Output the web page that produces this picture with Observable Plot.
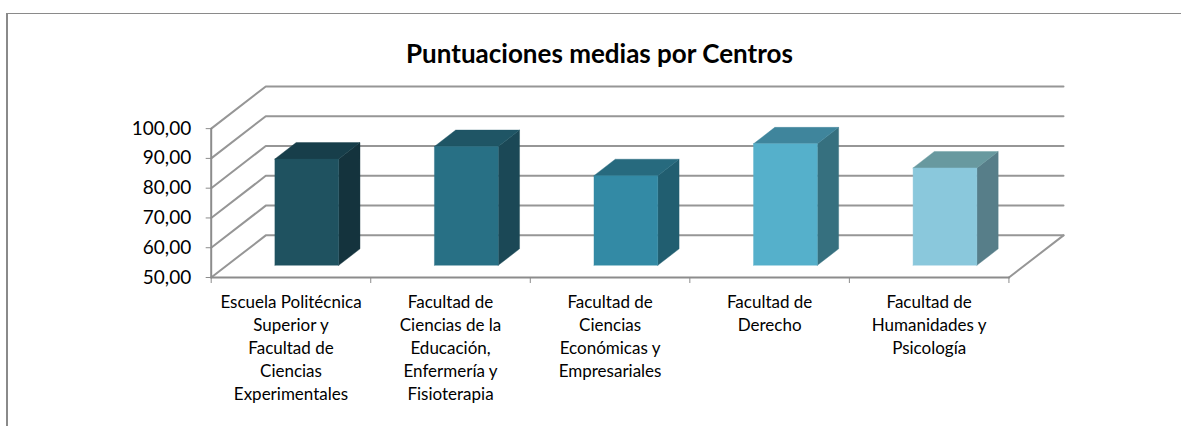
<!DOCTYPE html>
<html lang="es">
<head>
<meta charset="utf-8">
<script src="https://cdn.jsdelivr.net/npm/d3@7"></script>
<script src="https://cdn.jsdelivr.net/npm/@observablehq/plot@0.6"></script>
<style>
html,body{margin:0;padding:0;background:#fff;width:1181px;height:426px;overflow:hidden}
#wrap{position:relative;width:1181px;height:426px}
#frame{position:absolute;left:6px;top:13px;width:1175px;height:413px;border:solid #8a8a8a;border-width:1.5px 0 0 2px;box-sizing:border-box;pointer-events:none}
#title{position:absolute;left:0;width:1199px;top:38px;text-align:center;font:bold 26px Lato,sans-serif;color:#000;line-height:30px}
svg{position:absolute;left:0;top:0}
</style>
</head>
<body>
<div id="wrap"><div id="title">Puntuaciones medias por Centros</div></div>
<script>
const categories = [
  "Escuela Politécnica\nSuperior y\nFacultad de\nCiencias\nExperimentales",
  "Facultad de\nCiencias de la\nEducación,\nEnfermería y\nFisioterapia",
  "Facultad de\nCiencias\nEconómicas y\nEmpresariales",
  "Facultad de\nDerecho",
  "Facultad de\nHumanidades y\nPsicología"
];
const values = [85.7, 89.9, 80.1, 90.8, 82.7];
const frontColors = ["#1f5260", "#287085", "#338aa5", "#55b0cb", "#8ac8dc"];
const sideColors  = ["#14333d", "#1b4856", "#215e70", "#36707f", "#577e89"];
const topColors   = ["#173e4a", "#1f5565", "#276a7e", "#3f859c", "#68999f"];
const yTicks = [50, 60, 70, 80, 90, 100];
const xTicks = [0, 1, 2, 3, 4, 5];
const base = 50;

// oblique projection: depth d in [0,1] shifts along x and y scales
const depthX = 0.342, depthY = 14.15;
const P = (cat, val, d) => ({x: cat + d * depthX, y: val + d * depthY});
const barHalf = 0.2, dFront = 0.29, dBack = 0.68;

const grid = [];
yTicks.forEach(v => {
  [[0, 0], [0, 1], [5, 1]].forEach(([c, d]) => grid.push({...P(c, v, d), id: "g" + v}));
});
const floorEdge = [{...P(5, base, 1), id: "f"}, {...P(5, base, 0), id: "f"}];
const axisLine = [{...P(0, base, 0), id: "a"}, {...P(0, 100, 0), id: "a"}, ];
const floorFront = [{...P(0, base, 0), id: "b"}, {...P(5, base, 0), id: "b"}];

const faces = [];
values.forEach((v, i) => {
  const l = i + 0.5 - barHalf, r = i + 0.5 + barHalf;
  const add = (name, fill, pts) => pts.forEach(p => faces.push({...P(...p), id: i + name, fill}));
  add("side", sideColors[i], [[r, base, dFront], [r, base, dBack], [r, v, dBack], [r, v, dFront], [r, base, dFront]]);
  add("top", topColors[i], [[l, v, dFront], [r, v, dFront], [r, v, dBack], [l, v, dBack], [l, v, dFront]]);
  add("front", frontColors[i], [[l, base, dFront], [r, base, dFront], [r, v, dFront], [l, v, dFront], [l, base, dFront]]);
});

const chart = Plot.plot({
  width: 1181,
  height: 426,
  marginLeft: 210.7,
  marginRight: 118,
  marginTop: 86,
  marginBottom: 149,
  style: {fontFamily: "Lato, sans-serif", background: "transparent", overflow: "visible"},
  x: {type: "linear", domain: [0, 5 + depthX]},
  y: {type: "linear", domain: [50, 100 + depthY]},
  marks: [
    Plot.line(grid, {x: "x", y: "y", z: "id", stroke: "#969696", strokeWidth: 2, curve: "linear"}),
    Plot.line(floorEdge, {x: "x", y: "y", z: "id", stroke: "#969696", strokeWidth: 2}),
    Plot.line(floorFront, {x: "x", y: "y", z: "id", stroke: "#8c8c8c", strokeWidth: 2}),
    Plot.line(axisLine, {x: "x", y: "y", z: "id", stroke: "#8c8c8c", strokeWidth: 2}),
    Plot.line(faces, {x: "x", y: "y", z: "id", fill: "fill", stroke: "fill", strokeWidth: 0.4}),
    Plot.axisY({
      ticks: yTicks, tickSize: 5, tickPadding: 15, label: null, stroke: "#8c8c8c",
      tickFormat: d => d.toFixed(2).replace(".", ","),
      fontSize: 19, fill: "#000"
    }),
    Plot.axisX({ticks: xTicks, tickSize: 6, tickFormat: () => "", label: null, stroke: "#8c8c8c"}),
    Plot.axisX({
      ticks: categories.map((_, i) => i + 0.5), tickSize: 0, tickPadding: 14, label: null,
      tickFormat: d => categories[d - 0.5],
      fontSize: 17, lineHeight: 1.36, fill: "#000"
    })
  ]
});
document.getElementById("wrap").appendChild(chart);
const f = document.createElement("div"); f.id = "frame";
document.getElementById("wrap").appendChild(f);
</script>
</body>
</html>
